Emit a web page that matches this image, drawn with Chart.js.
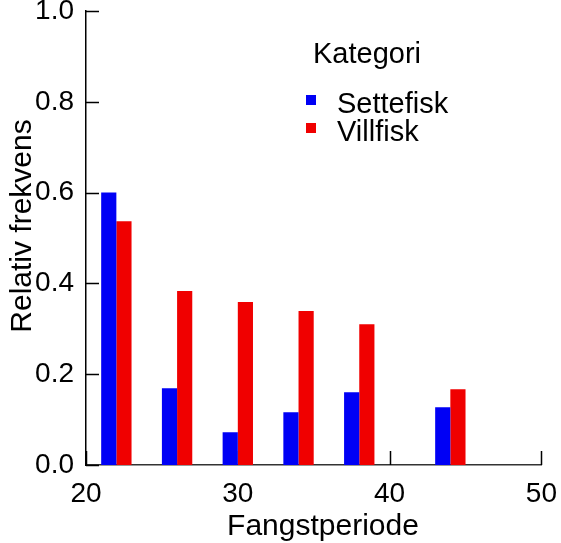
<!DOCTYPE html>
<html>
<head>
<meta charset="utf-8">
<script src="https://cdn.jsdelivr.net/npm/chart.js@4.4.1/dist/chart.umd.min.js"></script>
<style>
  html, body { margin: 0; padding: 0; background: #fff; }
  #wrap { width: 561px; height: 543px; }
</style>
</head>
<body>
<div id="wrap"><canvas id="c" width="561" height="543"></canvas></div>
<script>
// Catch periods (group centres on the x axis)
const periods = [22, 26, 30, 34, 38, 44];
// Relative frequency per period
const settefisk = [0.600, 0.169, 0.072, 0.116, 0.160, 0.127];
const villfisk  = [0.537, 0.383, 0.359, 0.339, 0.310, 0.167];
const seriesNames = ['Settefisk', 'Villfisk'];
const legendTitle = 'Kategori';
const xTitle = 'Fangstperiode';
const yTitle = 'Relativ frekvens';
const xTicks = [20, 30, 40, 50];
const yTicks = [0, 0.2, 0.4, 0.6, 0.8, 1.0];

const FONT = '"Liberation Sans", Arial, sans-serif';

const toPoints = vals => vals.map((v, i) => ({ x: periods[i], y: v }));

// Inward tick marks drawn under the bars
const inwardTicks = {
  id: 'inwardTicks',
  beforeDatasetsDraw(chart) {
    const { ctx, chartArea: a, scales: { x, y } } = chart;
    ctx.save();
    ctx.strokeStyle = '#000';
    ctx.lineWidth = 1.5;
    ctx.beginPath();
    yTicks.forEach(v => {
      const py = Math.round(y.getPixelForValue(v)) + 0.5;
      ctx.moveTo(a.left, py);
      ctx.lineTo(a.left + 13, py);
    });
    xTicks.forEach(v => {
      const px = Math.round(x.getPixelForValue(v)) + 0.5;
      ctx.moveTo(px, a.bottom);
      ctx.lineTo(px, a.bottom - 14);
    });
    ctx.stroke();
    ctx.restore();
  }
};

// Axis titles and the in-plot legend
const annotations = {
  id: 'annotations',
  afterDraw(chart) {
    const { ctx } = chart;
    ctx.save();
    ctx.fillStyle = '#000';
    ctx.font = '30px ' + FONT;
    ctx.textAlign = 'center';
    ctx.textBaseline = 'alphabetic';
    ctx.fillText(xTitle, 323, 535);

    ctx.save();
    ctx.translate(31, 226);
    ctx.rotate(-Math.PI / 2);
    ctx.fillText(yTitle, 0, 0);
    ctx.restore();

    ctx.textAlign = 'left';
    ctx.font = '29px ' + FONT;
    ctx.fillText(legendTitle, 313, 63);
    const rows = [113, 141];
    chart.data.datasets.forEach((ds, i) => {
      ctx.fillStyle = ds.backgroundColor;
      ctx.fillRect(306, rows[i] - 18, 10, 10);
      ctx.fillStyle = '#000';
      ctx.fillText(ds.label, 337, rows[i]);
    });
    ctx.restore();
  }
};

new Chart(document.getElementById('c'), {
  type: 'bar',
  data: {
    datasets: [
      { label: seriesNames[0], data: toPoints(settefisk), backgroundColor: '#0000F5' },
      { label: seriesNames[1], data: toPoints(villfisk), backgroundColor: '#F00000' }
    ]
  },
  options: {
    responsive: false,
    animation: false,
    devicePixelRatio: 1,
    layout: { padding: { top: 11, right: 18, left: 0, bottom: 0 } },
    datasets: { bar: { categoryPercentage: 0.5, barPercentage: 1.0, grouped: true } },
    plugins: { legend: { display: false }, tooltip: { enabled: false } },
    scales: {
      x: {
        type: 'linear',
        min: 20, max: 50,
        offset: false,
        afterBuildTicks(s) { s.ticks = xTicks.map(v => ({ value: v })); },
        afterFit(s) { s.height = 78; },
        grid: { display: false },
        border: { display: true, color: '#333', width: 1.5 },
        ticks: {
          color: '#000',
          font: { family: FONT, size: 28 },
          padding: 4,
          maxRotation: 0,
          callback: v => String(v)
        }
      },
      y: {
        type: 'linear',
        min: 0, max: 1,
        afterBuildTicks(s) { s.ticks = yTicks.map(v => ({ value: v })); },
        afterFit(s) { s.width = 86; s.paddingTop = 0; s.paddingBottom = 0; },
        grid: { display: false },
        border: { display: true, color: '#000', width: 1.5 },
        ticks: {
          color: '#000',
          font: { family: FONT, size: 28 },
          padding: 4,
          callback: v => v.toFixed(1)
        }
      }
    }
  },
  plugins: [inwardTicks, annotations]
});
</script>
</body>
</html>
